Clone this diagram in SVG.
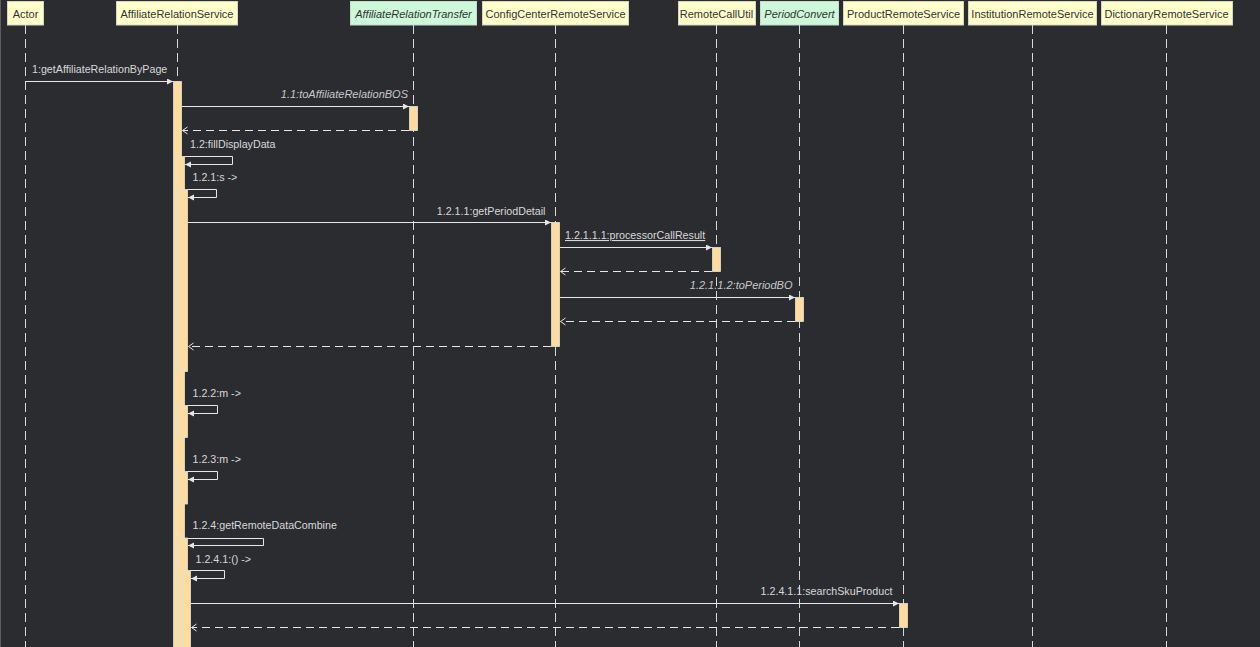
<svg xmlns="http://www.w3.org/2000/svg" width="1260" height="647" viewBox="0 0 1260 647">
<style>
.bg{fill:#2b2c30}
.hdr{fill:#ffffcc;stroke:#d6d6c0;stroke-width:1}
.hdrg{fill:#cdf8d9;stroke:#c4dcc8;stroke-width:1}
.ht{font-family:"Liberation Sans",Arial,sans-serif;font-size:11px;fill:#333;text-anchor:middle}
.hti{font-style:italic}
.life{stroke:#d8d8d8;stroke-width:1;stroke-dasharray:9 5;fill:none}
.bar{fill:#fedc9e;stroke:#e2e2e2;stroke-width:0.8}
.msg{stroke:#e6e6e6;stroke-width:1;fill:none}
.ret{stroke:#e6e6e6;stroke-width:1;fill:none;stroke-dasharray:8 5}
.lbl{font-family:"Liberation Sans",Arial,sans-serif;font-size:10.7px;fill:#d8d8d8}
.it{font-style:italic;fill:#c8c8c8;font-size:11px}
</style>
<defs>
<marker id="sync" markerUnits="userSpaceOnUse" markerWidth="7" markerHeight="7" refX="6" refY="3" orient="auto">
<path d="M0,0 L6,3 L0,6 z" fill="#e6e6e6"/>
</marker>
<marker id="open" markerUnits="userSpaceOnUse" markerWidth="8" markerHeight="9" refX="6" refY="4" orient="auto">
<path d="M1,0.5 L6,4 L1,7.5" fill="none" stroke="#e6e6e6" stroke-width="1"/>
</marker>
</defs>
<rect class="bg" x="0" y="0" width="1260" height="647"/>
<line x1="0.5" y1="0" x2="0.5" y2="647" stroke="#5e5e62" stroke-width="1"/>

<g id="actor">
<line class="life" x1="25.5" y1="25" x2="25.5" y2="647"/>
<rect class="hdr" x="7.5" y="1.5" width="36" height="23.5"/>
<text class="ht" x="25.5" y="18">Actor</text>
</g>

<g id="affiliateRelationService">
<line class="life" x1="177.5" y1="25" x2="177.5" y2="647"/>
<rect class="hdr" x="116.5" y="1.5" width="121" height="23.5"/>
<text class="ht" x="177" y="18">AffiliateRelationService</text>
<rect class="bar" x="173.5" y="81.5" width="8" height="570"/>
<rect class="bar" x="176.5" y="156.5" width="8" height="495"/>
<rect class="bar" x="179.5" y="189.5" width="8" height="182"/>
<rect class="bar" x="179.5" y="405.5" width="8" height="32"/>
<rect class="bar" x="179.5" y="471.5" width="8" height="32.5"/>
<rect class="bar" x="179.5" y="538" width="8" height="113"/>
<rect class="bar" x="182.5" y="570.5" width="8" height="81"/>
</g>

<g id="affiliateRelationTransfer">
<line class="life" x1="413.5" y1="25" x2="413.5" y2="647"/>
<rect class="hdrg" x="350.5" y="1.5" width="126" height="23.5"/>
<text class="ht hti" x="413.5" y="18">AffiliateRelationTransfer</text>
<rect class="bar" x="409.5" y="106.5" width="8" height="24"/>
</g>

<g id="configCenterRemoteService">
<line class="life" x1="555.5" y1="25" x2="555.5" y2="647"/>
<rect class="hdr" x="482.5" y="1.5" width="146" height="23.5"/>
<text class="ht" x="555.5" y="18">ConfigCenterRemoteService</text>
<rect class="bar" x="551.5" y="222.5" width="8" height="124"/>
</g>

<g id="remoteCallUtil">
<line class="life" x1="716.5" y1="25" x2="716.5" y2="647"/>
<rect class="hdr" x="678.5" y="1.5" width="77" height="23.5"/>
<text class="ht" x="716.5" y="18">RemoteCallUtil</text>
<rect class="bar" x="712.5" y="247.5" width="8" height="24"/>
</g>

<g id="periodConvert">
<line class="life" x1="799.5" y1="25" x2="799.5" y2="647"/>
<rect class="hdrg" x="760.5" y="1.5" width="78" height="23.5"/>
<text class="ht hti" x="799.5" y="18">PeriodConvert</text>
<rect class="bar" x="795.5" y="297.5" width="8" height="24"/>
</g>

<g id="productRemoteService">
<line class="life" x1="903.5" y1="25" x2="903.5" y2="647"/>
<rect class="hdr" x="843.5" y="1.5" width="120" height="23.5"/>
<text class="ht" x="903.5" y="18">ProductRemoteService</text>
<rect class="bar" x="899.5" y="603.5" width="8" height="24"/>
</g>

<g id="institutionRemoteService">
<line class="life" x1="1032.5" y1="25" x2="1032.5" y2="647"/>
<rect class="hdr" x="968.5" y="1.5" width="128" height="23.5"/>
<text class="ht" x="1032.5" y="18">InstitutionRemoteService</text>
</g>

<g id="dictionaryRemoteService">
<line class="life" x1="1166.5" y1="25" x2="1166.5" y2="647"/>
<rect class="hdr" x="1101.5" y="1.5" width="131" height="23.5"/>
<text class="ht" x="1166.5" y="18">DictionaryRemoteService</text>
</g>

<g id="connectors">
<line class="msg" x1="25.5" y1="81.5" x2="173" y2="81.5" marker-end="url(#sync)"/>
<text class="lbl" x="32" y="73">1:getAffiliateRelationByPage</text>

<line class="msg" x1="182" y1="106.5" x2="409" y2="106.5" marker-end="url(#sync)"/>
<text class="lbl it" x="408" y="98" text-anchor="end">1.1:toAffiliateRelationBOS</text>
<line class="ret" x1="409" y1="130.5" x2="182.5" y2="130.5" marker-end="url(#open)"/>

<path class="msg" d="M184.5,156.5 H232.5 V164.5 H185" marker-end="url(#sync)"/>
<text class="lbl" x="190" y="148">1.2:fillDisplayData</text>

<path class="msg" d="M187.5,189.5 H216.5 V197.5 H188" marker-end="url(#sync)"/>
<text class="lbl" x="192.5" y="181">1.2.1:s -&gt;</text>

<line class="msg" x1="188" y1="222.5" x2="551" y2="222.5" marker-end="url(#sync)"/>
<text class="lbl" x="545.5" y="214.5" text-anchor="end">1.2.1.1:getPeriodDetail</text>

<line class="msg" x1="560" y1="247.5" x2="712" y2="247.5" marker-end="url(#sync)"/>
<text class="lbl" x="565" y="239" text-decoration="underline">1.2.1.1.1:processorCallResult</text>
<line class="ret" x1="712" y1="271.5" x2="560.5" y2="271.5" marker-end="url(#open)"/>

<line class="msg" x1="560" y1="297.5" x2="795" y2="297.5" marker-end="url(#sync)"/>
<text class="lbl it" x="792.5" y="289" text-anchor="end">1.2.1.1.2:toPeriodBO</text>
<line class="ret" x1="795" y1="321.5" x2="560.5" y2="321.5" marker-end="url(#open)"/>

<line class="ret" x1="551" y1="346.5" x2="188.5" y2="346.5" marker-end="url(#open)"/>

<path class="msg" d="M187.5,405.5 H217.5 V413.5 H188" marker-end="url(#sync)"/>
<text class="lbl" x="192.5" y="397">1.2.2:m -&gt;</text>

<path class="msg" d="M187.5,471.5 H217.5 V479.5 H188" marker-end="url(#sync)"/>
<text class="lbl" x="192.5" y="463">1.2.3:m -&gt;</text>

<path class="msg" d="M187.5,538.5 H263.5 V545.5 H188" marker-end="url(#sync)"/>
<text class="lbl" x="192.5" y="529">1.2.4:getRemoteDataCombine</text>

<path class="msg" d="M190.5,570.5 H224.5 V578.5 H191" marker-end="url(#sync)"/>
<text class="lbl" x="195.5" y="562.5">1.2.4.1:() -&gt;</text>

<line class="msg" x1="191" y1="603.5" x2="899" y2="603.5" marker-end="url(#sync)"/>
<text class="lbl" x="892.5" y="595" text-anchor="end">1.2.4.1.1:searchSkuProduct</text>
<line class="ret" x1="899" y1="627.5" x2="191.5" y2="627.5" marker-end="url(#open)"/>
</g>
</svg>
